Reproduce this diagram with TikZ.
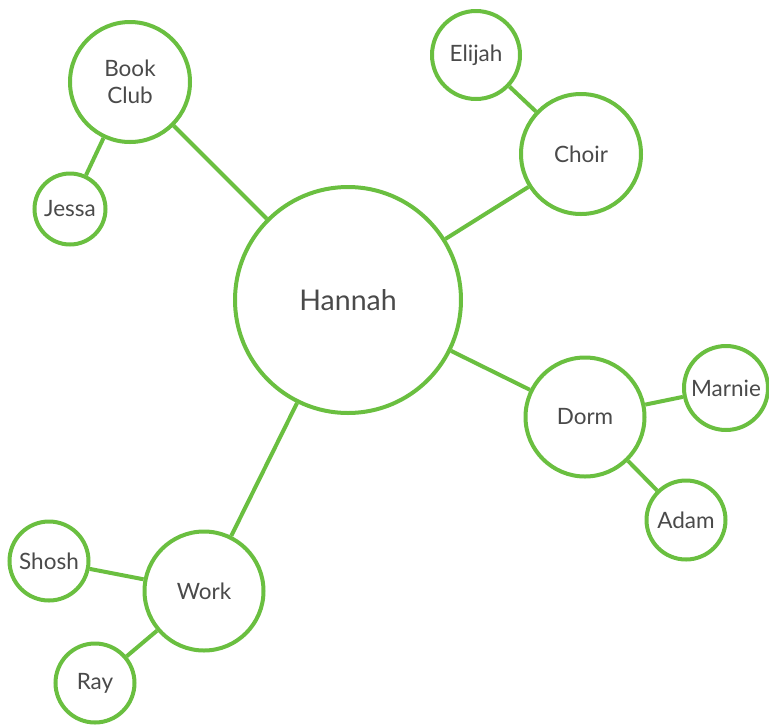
\documentclass[tikz,border=0pt]{standalone}
\usepackage{fontspec}
\setmainfont{Lato}
\definecolor{lgreen}{HTML}{6ABF40}
\definecolor{txt}{HTML}{4A4A4A}
\begin{document}
\begin{tikzpicture}[x=1pt,y=-1pt,
  bub/.style={circle,draw=lgreen,line width=4pt,fill=white,inner sep=0pt,text=txt,font=\fontsize{22.5}{27}\selectfont,align=center},
  link/.style={draw=lgreen,line width=4pt}]
\useasboundingbox (0,0) rectangle (769,724);
\node[bub,minimum size=226pt,font=\fontsize{28.5}{32}\selectfont] (hannah) at (348,300) {Hannah};
\node[bub,minimum size=120pt] (book) at (130,82) {Book\\Club};
\node[bub,minimum size=71pt] (jessa) at (70,209) {Jessa};
\node[bub,minimum size=88pt] (elijah) at (476,55) {Elijah};
\node[bub,minimum size=120pt] (choir) at (581,154) {Choir};
\node[bub,minimum size=119pt] (dorm) at (585,417) {Dorm};
\node[bub,minimum size=84pt] (marnie) at (726,388) {Marnie};
\node[bub,minimum size=79pt] (adam) at (686,520) {Adam};
\node[bub,minimum size=119pt] (work) at (204,591) {Work};
\node[bub,minimum size=79pt] (shosh) at (49,561) {Shosh};
\node[bub,minimum size=79pt] (ray) at (95,683) {Ray};
\path[link] (hannah) -- (book);
\path[link] (hannah) -- (choir);
\path[link] (hannah) -- (dorm);
\path[link] (hannah) -- (work);
\path[link] (book) -- (jessa);
\path[link] (choir) -- (elijah);
\path[link] (dorm) -- (marnie);
\path[link] (dorm) -- (adam);
\path[link] (work) -- (shosh);
\path[link] (work) -- (ray);
\end{tikzpicture}
\end{document}
